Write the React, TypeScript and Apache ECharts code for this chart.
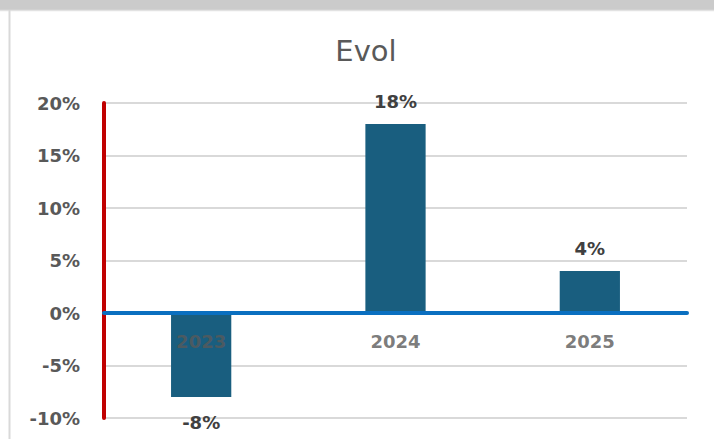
import React, { useEffect, useRef } from "react";
import * as echarts from "echarts";

// Year-over-year evolution, in percent
const years: string[] = ["2023", "2024", "2025"];
const evolution: number[] = [-8, 18, 4];
const yTicks = { min: -10, max: 20, step: 5 };

const FONT = "DejaVu Sans";

export default function App() {
  const ref = useRef<HTMLDivElement>(null);

  useEffect(() => {
    if (!ref.current) return;
    const chart = echarts.init(ref.current, undefined, { renderer: "svg" });

    chart.setOption({
      animation: false,
      backgroundColor: "#ffffff",
      title: {
        text: "Evol",
        left: 361,
        textAlign: "center",
        top: 31,
        textStyle: {
          fontFamily: FONT,
          fontSize: 29,
          fontWeight: "normal",
          color: "#595959",
        },
      },
      graphic: [
        {
          type: "rect",
          shape: { x: 0, y: 0, width: 714, height: 10 },
          style: { fill: "#cbcbcb" },
          silent: true,
        },
        {
          type: "line",
          shape: { x1: 0, y1: 10.5, x2: 714, y2: 10.5 },
          style: { stroke: "#e2e2e2", lineWidth: 1.5 },
          silent: true,
        },
        {
          type: "line",
          shape: { x1: 9.5, y1: 10, x2: 9.5, y2: 439 },
          style: { stroke: "#d9d9d9", lineWidth: 2 },
          silent: true,
        },
      ],
      grid: {
        left: 104,
        right: 27,
        top: 103,
        bottom: 21,
        containLabel: false,
        outerBoundsMode: "none",
      },
      xAxis: {
        type: "category",
        data: years,
        z: 10,
        axisLine: {
          onZero: true,
          lineStyle: { color: "#0a6fc0", width: 4 },
        },
        axisTick: { show: false },
        axisLabel: { show: false },
      },
      yAxis: {
        type: "value",
        min: yTicks.min,
        max: yTicks.max,
        interval: yTicks.step,
        axisLine: {
          show: true,
          lineStyle: { color: "#c00000", width: 4 },
        },
        axisTick: { show: false },
        splitLine: { lineStyle: { color: "#d9d9d9", width: 2 } },
        axisLabel: {
          margin: 24,
          formatter: (v: number) => `${v}%`,
          fontFamily: FONT,
          fontSize: 18,
          fontWeight: "bold",
          color: "#595959",
        },
      },
      series: [
        {
          type: "bar",
          barWidth: "31%",
          itemStyle: { color: "#195e7f" },
          label: {
            show: true,
            formatter: (p: any) => `${p.value}%`,
            fontFamily: FONT,
            fontSize: 18,
            fontWeight: "bold",
            color: "#404040",
            distance: 14,
          },
          data: evolution.map((v) => ({
            value: v,
            label:
              v < 0
                ? { position: "bottom", distance: 16 }
                : { position: "top" },
          })),
        },
        {
          // year labels sitting just under the zero line
          type: "scatter",
          symbolSize: 0,
          silent: true,
          z: 20,
          data: years.map((y) => [y, 0]),
          label: {
            show: true,
            position: "bottom",
            distance: 19,
            formatter: (p: any) => p.value[0],
            fontFamily: FONT,
            fontSize: 18,
            fontWeight: "bold",
            color: "#595959",
          },
        },
      ],
    });

    return () => chart.dispose();
  }, []);

  return (
    <div
      ref={ref}
      style={{ position: "fixed", left: 0, top: 0, width: 714, height: 439 }}
    />
  );
}
